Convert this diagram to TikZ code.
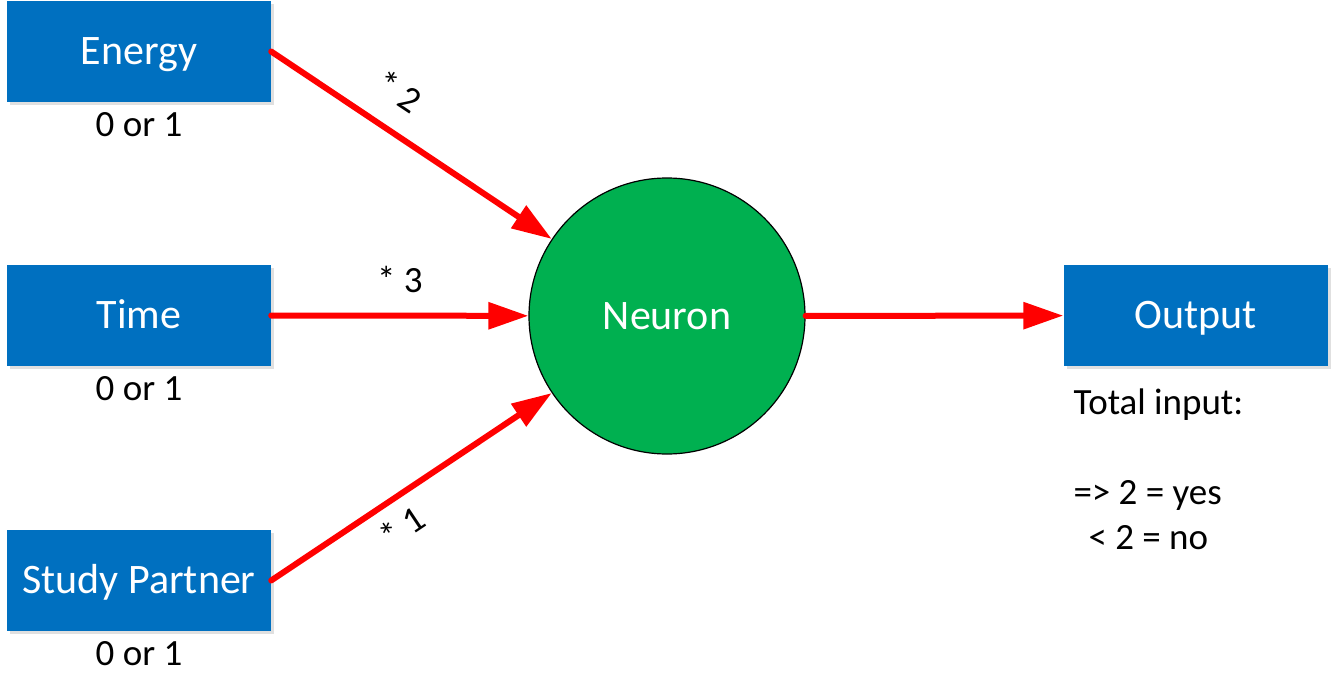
\documentclass[tikz,border=0pt]{standalone}
\usepackage{fontspec}
\setmainfont{Carlito}
\usetikzlibrary{arrows.meta,positioning,shadows}
\definecolor{boxblue}{HTML}{0070C0}
\definecolor{cellgreen}{HTML}{00B050}
\definecolor{linkred}{HTML}{FF0000}
\begin{document}
\begin{tikzpicture}[x=1pt,y=-1pt,>={Triangle[length=40pt,width=26pt]},
  inbox/.style={rectangle,fill=boxblue,text=white,minimum width=264pt,minimum height=101pt,
    inner sep=0pt,text height=26pt,text depth=0pt,font=\fontsize{42}{50}\selectfont,
    general shadow={fill=black!12,shadow xshift=3pt,shadow yshift=-3pt}},
  small/.style={inner sep=0pt,font=\fontsize{37}{45}\selectfont},
  link/.style={->,draw=linkred,fill=linkred,line width=6pt,line cap=round}]
\useasboundingbox (0,0) rectangle (1332,693);
% inputs
\node[inbox] (energy) at (139,51.5) {Energy};
\node[inbox] (time) at (139,315.5) {Time};
\node[inbox] (partner) at (139,580.5) {Study Partner};
\node[small,below=10pt of energy] (energyval) {0 or 1};
\node[small,below=10pt of time] (timeval) {0 or 1};
\node[small,below=10pt of partner] (partnerval) {0 or 1};
% neuron and output
\node[circle,minimum size=276pt,fill=cellgreen,draw=black,line width=1.2pt,text=white,
  inner sep=0pt,text height=26pt,text depth=0pt,font=\fontsize{42}{50}\selectfont] (neuron) at (667,316) {Neuron};
\node[inbox] (output) at (1195.5,315.5) {Output};
\node[small,align=left,anchor=north west] (rule) at ([xshift=10pt,yshift=-22pt]output.south west)
  {Total input:\\[45pt]=> 2 = yes\\\hspace*{15pt}< 2 = no};
% weighted links
\draw[link] (energy.east) -- (neuron) node[small,pos=0.38,sloped,above=22pt,text=black] {* 2};
\draw[link] (time.east) -- (neuron) node[small,midway,above=20pt,text=black] {* 3};
\draw[link] (partner.east) -- (neuron) node[small,pos=0.41,sloped,below=12pt,text=black] {* 1};
\draw[link] (neuron) -- (output);
\end{tikzpicture}
\end{document}
